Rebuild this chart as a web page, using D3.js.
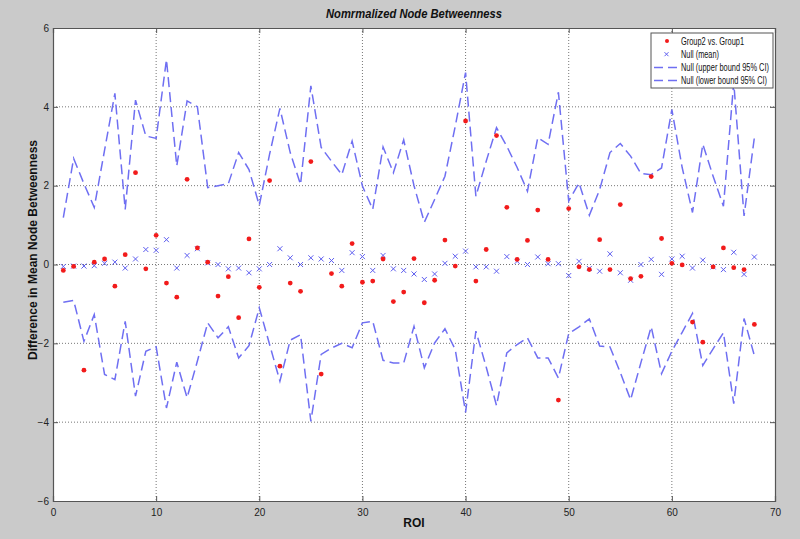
<!DOCTYPE html>
<html>
<head>
<meta charset="utf-8">
<script src="https://cdn.jsdelivr.net/npm/d3@7"></script>
<style>
body { margin: 0; background: #cacaca; }
svg { display: block; }
</style>
</head>
<body>
<svg id="chart" width="800" height="539"></svg>
<script>
// ROI 1..68
var roi = d3.range(1, 69);

var group = [-0.15, -0.05, -2.68, 0.06, 0.14, -0.55, 0.25, 2.33, -0.11, 0.74,
  -0.47, -0.83, 2.16, 0.42, 0.06, -0.8, -0.31, -1.35, 0.65, -0.58,
  2.13, -2.58, -0.47, -0.68, 2.61, -2.78, -0.23, -0.55, 0.53, -0.45,
  -0.42, 0.14, -0.94, -0.7, 0.15, -0.97, -0.4, 0.62, -0.04, 3.64,
  -0.42, 0.38, 3.27, 1.45, 0.13, 0.61, 1.38, 0.13, -3.44, 1.42,
  -0.06, -0.13, 0.63, -0.13, 1.52, -0.36, -0.3, 2.23, 0.66, 0.03,
  -0.01, -1.46, -1.97, -0.06, 0.42, -0.08, -0.13, -1.52];

var nullMean = [-0.05, -0.04, -0.04, -0.03, 0.03, 0.06, -0.09, 0.14, 0.38, 0.36,
  0.63, -0.09, 0.23, 0.4, 0.04, 0.0, -0.11, -0.09, -0.21, -0.11,
  0.0, 0.4, 0.17, 0.0, 0.17, 0.14, 0.1, -0.15, 0.3, 0.2,
  -0.15, 0.23, -0.11, -0.15, -0.24, -0.38, -0.24, 0.03, 0.21, 0.34,
  -0.06, -0.06, -0.17, 0.2, 0.08, 0.0, 0.19, 0.02, 0.02, -0.28,
  0.08, -0.1, -0.17, 0.27, -0.21, -0.4, 0.0, 0.13, -0.25, 0.14,
  0.21, -0.09, 0.11, -0.06, -0.13, 0.31, -0.25, 0.19];

var upper = [1.19, 2.69, 2.05, 1.45, 2.9, 4.34, 1.4, 4.17, 3.26, 3.2,
  5.2, 2.5, 4.15, 4.0, 1.95, 2.0, 2.05, 2.84, 2.41, 1.5,
  2.8, 3.96, 2.84, 2.03, 4.53, 2.97, 2.62, 2.28, 3.13, 1.99,
  1.4, 2.98, 2.33, 3.16, 2.0, 1.07, 1.65, 2.24, 3.51, 4.87,
  1.73, 2.62, 3.47, 3.0, 2.46, 1.86, 3.22, 3.05, 4.37, 1.61,
  2.07, 1.25, 1.9, 2.84, 3.07, 2.75, 2.31, 2.28, 2.45, 3.93,
  2.46, 1.32, 3.05, 2.24, 1.48, 4.62, 1.23, 3.22];

var lower = [-0.96, -0.91, -1.95, -1.27, -2.79, -2.92, -1.44, -3.34, -2.2, -2.09,
  -3.64, -2.48, -3.38, -2.45, -1.48, -1.86, -1.58, -2.37, -2.06, -1.1,
  -2.03, -2.96, -1.92, -1.78, -3.98, -2.28, -2.12, -2.0, -2.11, -1.48,
  -1.44, -2.43, -2.5, -2.5, -1.57, -2.62, -1.99, -1.63, -2.16, -3.75,
  -1.69, -2.6, -3.58, -2.24, -2.03, -1.86, -2.37, -2.37, -2.88, -1.75,
  -1.58, -1.38, -2.07, -2.09, -2.74, -3.43, -2.49, -1.58, -2.77, -2.2,
  -1.72, -1.24, -2.56, -2.14, -1.73, -3.53, -1.37, -2.31];

var xTicks = [0, 10, 20, 30, 40, 50, 60, 70];
var yTicks = [-6, -4, -2, 0, 2, 4, 6];

var svg = d3.select("#chart");
var pLeft = 53, pRight = 775, pTop = 28, pBottom = 501;

var x = d3.scaleLinear().domain([0, 70]).range([pLeft, pRight]);
var y = d3.scaleLinear().domain([-6, 6]).range([pBottom, pTop]);

var tickFont = "'Liberation Sans Narrow', 'Arial Narrow', Arial, sans-serif";
var blue = "#6f6ff2";

// plot area
svg.append("rect")
  .attr("x", pLeft).attr("y", pTop)
  .attr("width", pRight - pLeft).attr("height", pBottom - pTop)
  .attr("fill", "#fff");

// grid
svg.append("g").selectAll("line")
  .data(xTicks.slice(1, -1))
  .enter().append("line")
  .attr("x1", d => x(d)).attr("x2", d => x(d))
  .attr("y1", pTop).attr("y2", pBottom)
  .attr("stroke", "#777").attr("stroke-width", 1)
  .attr("stroke-dasharray", "1,2");

svg.append("g").selectAll("line")
  .data(yTicks.slice(1, -1))
  .enter().append("line")
  .attr("x1", pLeft).attr("x2", pRight)
  .attr("y1", d => y(d)).attr("y2", d => y(d))
  .attr("stroke", "#777").attr("stroke-width", 1)
  .attr("stroke-dasharray", "1,2");

// axes
var xAxis = svg.append("g")
  .attr("transform", "translate(0," + pBottom + ")")
  .call(d3.axisBottom(x).tickValues(xTicks).tickSize(-5).tickPadding(8));
var xAxisTop = svg.append("g")
  .attr("transform", "translate(0," + pTop + ")")
  .call(d3.axisTop(x).tickValues(xTicks).tickSize(-5).tickFormat(""));
var yAxis = svg.append("g")
  .attr("transform", "translate(" + pLeft + ",0)")
  .call(d3.axisLeft(y).tickValues(yTicks).tickSize(-5).tickPadding(4));
var yAxisR = svg.append("g")
  .attr("transform", "translate(" + pRight + ",0)")
  .call(d3.axisRight(y).tickValues(yTicks).tickSize(-5).tickFormat(""));

[xAxis, xAxisTop, yAxis, yAxisR].forEach(function(a) {
  a.select(".domain").attr("stroke", "#555").attr("stroke-width", 1.2);
  a.selectAll(".tick line").attr("stroke", "#555");
  a.selectAll("text").attr("font-family", tickFont).attr("font-size", 10).attr("fill", "#222");
});

// bounds
var line = d3.line()
  .x((d, i) => x(roi[i]))
  .y(d => y(d));

[upper, lower].forEach(function(s) {
  svg.append("path")
    .datum(s)
    .attr("d", line)
    .attr("fill", "none")
    .attr("stroke", blue)
    .attr("stroke-width", 1.5)
    .attr("stroke-dasharray", "10,5");
});

// null mean x marks
svg.append("g").selectAll("path")
  .data(nullMean)
  .enter().append("path")
  .attr("d", function(d, i) {
    var cx = x(roi[i]), cy = y(d), r = 2.5;
    return "M" + (cx - r) + "," + (cy - r) + "L" + (cx + r) + "," + (cy + r) +
      "M" + (cx - r) + "," + (cy + r) + "L" + (cx + r) + "," + (cy - r);
  })
  .attr("stroke", "#5d5df0")
  .attr("stroke-width", 1);

// group points
svg.append("g").selectAll("circle")
  .data(group)
  .enter().append("circle")
  .attr("cx", (d, i) => x(roi[i]))
  .attr("cy", d => y(d))
  .attr("r", 2.4)
  .attr("fill", "#f21b1b");

// titles
svg.append("text")
  .attr("x", (pLeft + pRight) / 2).attr("y", 18)
  .attr("text-anchor", "middle")
  .attr("font-family", tickFont)
  .attr("font-size", 13).attr("font-style", "italic").attr("font-weight", "bold")
  .attr("textLength", 176).attr("lengthAdjust", "spacingAndGlyphs")
  .attr("fill", "#111")
  .text("Nomrmalized Node Betweenness");

svg.append("text")
  .attr("x", (pLeft + pRight) / 2).attr("y", 527)
  .attr("text-anchor", "middle")
  .attr("font-family", tickFont)
  .attr("font-size", 12).attr("font-weight", "bold")
  .attr("fill", "#111")
  .text("ROI");

svg.append("text")
  .attr("transform", "translate(37,250) rotate(-90)")
  .attr("text-anchor", "middle")
  .attr("font-family", "Arial, 'Liberation Sans', sans-serif")
  .attr("font-size", 12).attr("font-weight", "bold")
  .attr("fill", "#111")
  .text("Difference in Mean Node Betweenness");

// legend
var lg = svg.append("g").attr("transform", "translate(651,33)");
lg.append("rect")
  .attr("width", 122).attr("height", 55)
  .attr("fill", "#fff").attr("stroke", "#555").attr("stroke-width", 1);

var items = ["Group2 vs. Group1", "Null (mean)", "Null (upper bound 95% CI)", "Null (lower bound 95% CI)"];
var itemLen = [63, 38, 88, 86];
items.forEach(function(t, i) {
  var cy = 8 + i * 13.2;
  if (i === 0) {
    lg.append("circle").attr("cx", 16).attr("cy", cy).attr("r", 2).attr("fill", "#f21b1b");
  } else if (i === 1) {
    lg.append("path")
      .attr("d", "M13.5," + (cy - 2) + "L17.5," + (cy + 2) + "M13.5," + (cy + 2) + "L17.5," + (cy - 2))
      .attr("stroke", "#5d5df0").attr("stroke-width", 1);
  } else {
    lg.append("line")
      .attr("x1", 3).attr("x2", 26).attr("y1", cy).attr("y2", cy)
      .attr("stroke", blue).attr("stroke-width", 1.5)
      .attr("stroke-dasharray", "9,5");
  }
  lg.append("text")
    .attr("x", 30).attr("y", cy + 3.5)
    .attr("font-family", tickFont)
    .attr("font-size", 10).attr("fill", "#111")
    .attr("textLength", itemLen[i]).attr("lengthAdjust", "spacingAndGlyphs")
    .text(t);
});
</script>
</body>
</html>
